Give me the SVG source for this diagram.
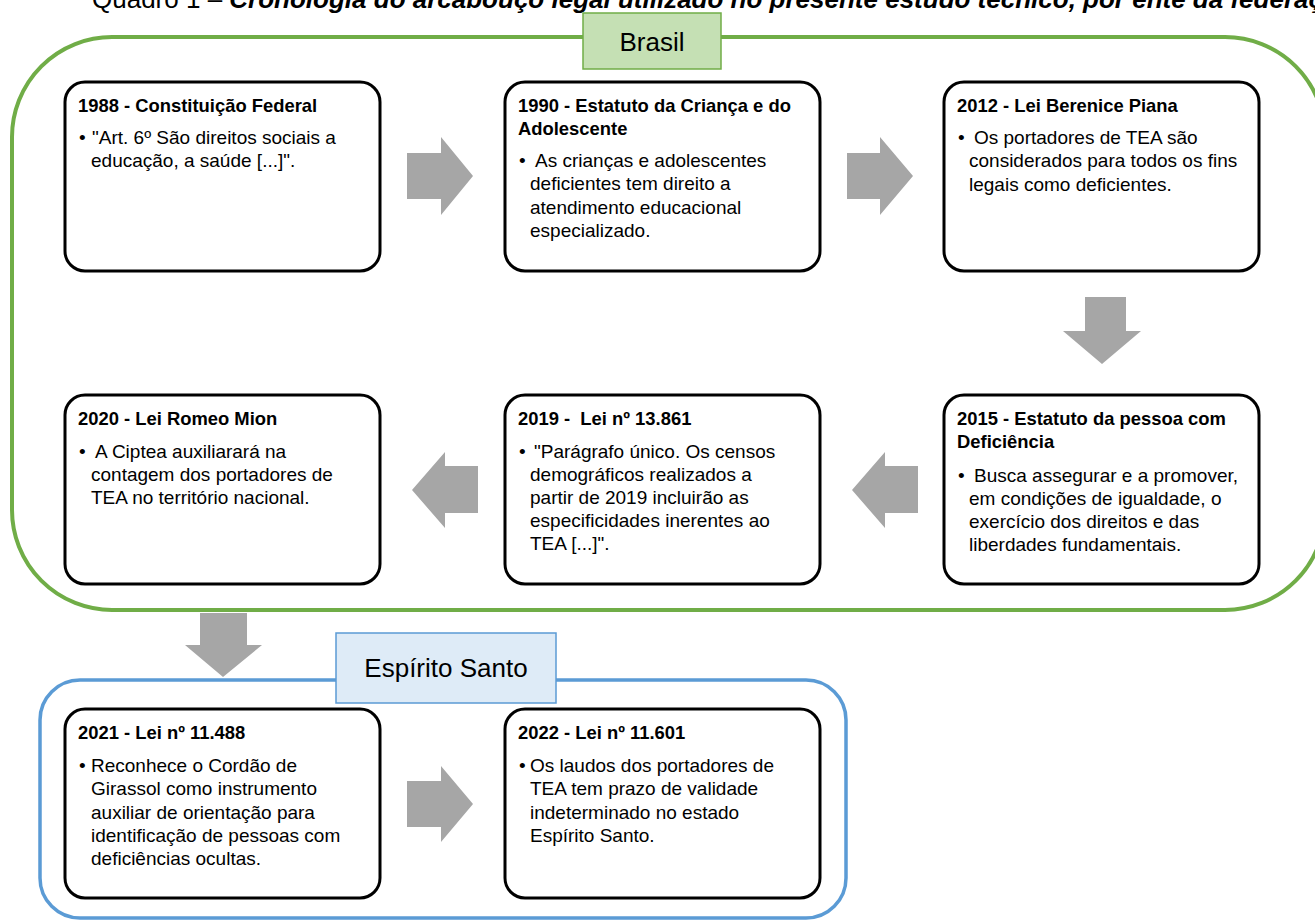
<svg xmlns="http://www.w3.org/2000/svg" width="1315" height="923" viewBox="0 0 1315 923">
<style>
text{font-family:"Liberation Sans",Arial,sans-serif;fill:#000}
.box{fill:#fff;stroke:#000;stroke-width:3}
.t{font-weight:bold;font-size:18.4px}
.b{font-size:19px}
.arr{fill:#A6A6A6}
.lbl{font-size:26px;text-anchor:middle}
</style>
<rect width="1315" height="923" fill="#fff"/>
<text x="92" y="8" font-size="26"><tspan>Quadro 1 – </tspan><tspan font-weight="bold" font-style="italic">Cronologia do arcabouço legal utilizado no presente estudo técnico, por ente da federação</tspan></text>
<g id="brasil">
<rect x="12" y="37" width="1313" height="573" rx="100" fill="none" stroke="#70AD47" stroke-width="4"/>
<rect x="583" y="13" width="138" height="56" fill="#C5E0B4" stroke="#70AD47" stroke-width="1.5"/>
<text class="lbl" x="652" y="51">Brasil</text>
</g>
<g id="espirito-santo">
<rect x="40" y="680" width="806" height="238" rx="40" fill="none" stroke="#5B9BD5" stroke-width="3.5"/>
<rect x="336" y="633" width="220" height="70" fill="#DEEBF7" stroke="#5B9BD5" stroke-width="1.5"/>
<text class="lbl" x="446" y="677">Espírito Santo</text>
</g>
<g id="connectors">
<polygon class="arr" points="407,153 441,153 441,137 473,176 441,215 441,199 407,199"/>
<polygon class="arr" points="847,153 880,153 880,137 913,176 880,215 880,199 847,199"/>
<polygon class="arr" points="1085,297 1126,297 1126,331 1141,331 1102,364 1063,331 1085,331"/>
<polygon class="arr" points="918,466 885,466 885,452 852,490 885,528 885,513 918,513"/>
<polygon class="arr" points="478,466 445,466 445,452 412,490 445,528 445,513 478,513"/>
<polygon class="arr" points="200,613 247,613 247,645 262,645 223,677 185,645 200,645"/>
<polygon class="arr" points="407,781 441,781 441,766 473,804 441,842 441,827 407,827"/>
</g>
<g id="n1988">
<rect class="box" x="65" y="82" width="315" height="189" rx="20"/>
<text class="t" x="78" y="112">1988 - Constituição Federal</text>
<text class="b" x="79" y="144">•</text>
<text class="b"><tspan x="92" y="144">"Art. 6º São direitos sociais a</tspan><tspan x="91" y="167">educação, a saúde [...]".</tspan></text>
</g>
<g id="n1990">
<rect class="box" x="505" y="82" width="315" height="189" rx="20"/>
<text class="t"><tspan x="518" y="112">1990 - Estatuto da Criança e do</tspan><tspan x="518" y="135">Adolescente</tspan></text>
<text class="b" x="519" y="167">•</text>
<text class="b"><tspan x="535" y="167">As crianças e adolescentes</tspan><tspan x="530" y="190">deficientes tem direito a</tspan><tspan x="530" y="214">atendimento educacional</tspan><tspan x="530" y="237">especializado.</tspan></text>
</g>
<g id="n2012">
<rect class="box" x="944" y="82" width="315" height="189" rx="20"/>
<text class="t" x="957" y="112">2012 - Lei Berenice Piana</text>
<text class="b" x="958" y="144">•</text>
<text class="b"><tspan x="974" y="144">Os portadores de TEA são</tspan><tspan x="969" y="167">considerados para todos os fins</tspan><tspan x="969" y="191">legais como deficientes.</tspan></text>
</g>
<g id="n2015">
<rect class="box" x="944" y="395" width="315" height="189" rx="20"/>
<text class="t"><tspan x="957" y="425">2015 - Estatuto da pessoa com</tspan><tspan x="957" y="448">Deficiência</tspan></text>
<text class="b" x="958" y="482">•</text>
<text class="b"><tspan x="974" y="482">Busca assegurar e a promover,</tspan><tspan x="969" y="505">em condições de igualdade, o</tspan><tspan x="969" y="528">exercício dos direitos e das</tspan><tspan x="969" y="551">liberdades fundamentais.</tspan></text>
</g>
<g id="n2019">
<rect class="box" x="505" y="395" width="315" height="189" rx="20"/>
<text class="t" x="518" y="425" xml:space="preserve">2019 -  Lei nº 13.861</text>
<text class="b" x="519" y="458">•</text>
<text class="b"><tspan x="534" y="458">"Parágrafo único. Os censos</tspan><tspan x="530" y="481">demográficos realizados a</tspan><tspan x="530" y="504">partir de 2019 incluirão as</tspan><tspan x="530" y="527">especificidades inerentes ao</tspan><tspan x="530" y="550">TEA [...]".</tspan></text>
</g>
<g id="n2020">
<rect class="box" x="65" y="395" width="315" height="189" rx="20"/>
<text class="t" x="78" y="425">2020 - Lei Romeo Mion</text>
<text class="b" x="79" y="458">•</text>
<text class="b"><tspan x="95" y="458">A Ciptea auxiliarará na</tspan><tspan x="91" y="481">contagem dos portadores de</tspan><tspan x="91" y="504">TEA no território nacional.</tspan></text>
</g>
<g id="n2021">
<rect class="box" x="65" y="709" width="315" height="189" rx="20"/>
<text class="t" x="78" y="739">2021 - Lei nº 11.488</text>
<text class="b" x="79" y="772">•</text>
<text class="b"><tspan x="91" y="772">Reconhece o Cordão de</tspan><tspan x="91" y="795">Girassol como instrumento</tspan><tspan x="91" y="819">auxiliar de orientação para</tspan><tspan x="91" y="842">identificação de pessoas com</tspan><tspan x="91" y="865">deficiências ocultas.</tspan></text>
</g>
<g id="n2022">
<rect class="box" x="505" y="709" width="315" height="189" rx="20"/>
<text class="t" x="518" y="739">2022 - Lei nº 11.601</text>
<text class="b" x="519" y="772">•</text>
<text class="b"><tspan x="530" y="772">Os laudos dos portadores de</tspan><tspan x="530" y="795">TEA tem prazo de validade</tspan><tspan x="530" y="819">indeterminado no estado</tspan><tspan x="530" y="842">Espírito Santo.</tspan></text>
</g>
</svg>
